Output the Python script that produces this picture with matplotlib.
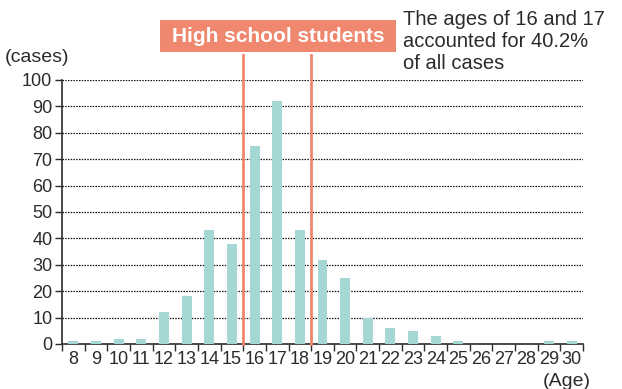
import matplotlib
matplotlib.use("Agg")
import matplotlib.pyplot as plt
from matplotlib.patches import Rectangle
import numpy as np

# ages and number of cases
ages = [8, 9, 10, 11, 12, 13, 14, 15, 16, 17, 18, 19, 20, 21, 22, 23, 24, 25, 26, 27, 28, 29, 30]
cases = [1, 1, 2, 2, 12, 18, 43, 38, 75, 92, 43, 32, 25, 10, 6, 5, 3, 1, 0, 0, 0, 1, 1]
y_ticks = list(range(0, 101, 10))
hs_first, hs_last = 16, 18   # high school age range

bar_color = "#a5d8d4"
red = "#f0876f"
dark = "#2b2b2b"

plt.rcParams["font.family"] = ["Liberation Sans Narrow", "Liberation Sans", "DejaVu Sans"]

W, H = 622, 389
fig = plt.figure(figsize=(W / 100, H / 100), dpi=100)
ax = fig.add_axes([62 / W, 1 - 344 / H, 521 / W, 264 / H])

x = np.arange(len(ages))
ax.bar(x, cases, width=0.44, color=bar_color, zorder=3)

ax.set_xlim(-0.5, len(ages) - 0.5)
ax.set_ylim(0, 100)
ax.set_yticks(y_ticks)
ax.set_yticklabels([str(v) for v in y_ticks], fontsize=13, color=dark)

# x ticks sit between categories, labels in the middle
ax.set_xticks(np.arange(-0.5, len(ages)), minor=False)
ax.set_xticklabels([])
ax.set_xticks(x, minor=True)
ax.set_xticklabels([str(a) for a in ages], minor=True, fontsize=13, color=dark)
ax.tick_params(axis="x", which="major", length=5, width=1, color=dark, direction="out")
ax.tick_params(axis="x", which="minor", length=0, pad=5)
ax.tick_params(axis="y", length=5, width=1, color=dark, pad=2)

for v in y_ticks[1:]:
    ax.axhline(v, color="#111111", linestyle=(0, (1.2, 1.0)), linewidth=0.9, zorder=1)

for s in ["top", "right"]:
    ax.spines[s].set_visible(False)
for s in ["left", "bottom"]:
    ax.spines[s].set_color(dark)
    ax.spines[s].set_linewidth(1.2)

# high school boundaries
i0 = ages.index(hs_first) - 0.5
i1 = ages.index(hs_last) + 0.5
for xi in (i0, i1):
    ax.plot([xi, xi], [0, 109.5], color=red, linewidth=2, zorder=4, clip_on=False)

# label box above the boundaries
fig.patches.append(Rectangle((160 / W, 1 - 52 / H), 236 / W, 32 / H,
                             transform=fig.transFigure, facecolor=red, edgecolor="none"))
fig.text(278 / W, 1 - 36 / H, "High school students", fontsize=15, fontweight="bold",
         color="white", va="center", ha="center",
         family=["Liberation Sans", "DejaVu Sans"])

fig.text(403 / W, 1 - 10 / H,
         "The ages of 16 and 17\naccounted for 40.2%\nof all cases",
         fontsize=14.5, color=dark, va="top", ha="left", linespacing=1.2)

fig.text(5 / W, 1 - 57 / H, "(cases)", fontsize=14, color=dark, va="center", ha="left")
fig.text(591 / W, 1 - 381 / H, "(Age)", fontsize=14, color=dark, va="center", ha="right")

fig.savefig("out.png", dpi=100)
